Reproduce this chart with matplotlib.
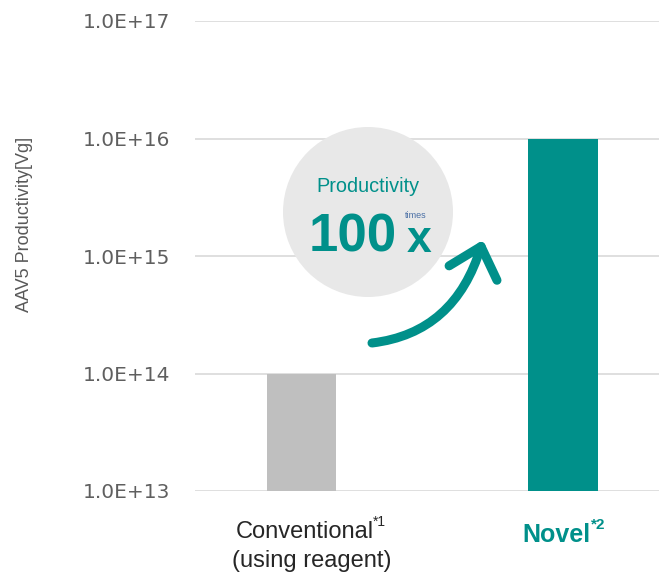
import matplotlib
matplotlib.use("Agg")
import matplotlib.pyplot as plt
from matplotlib.patches import Circle, FancyArrowPatch, ArrowStyle
from matplotlib.path import Path
import numpy as np

categories = ["Conventional", "Novel"]
values = [1.0e14, 1.0e16]
bar_colors = ["#bfbfbf", "#00908a"]
ytick_vals = [1e13, 1e14, 1e15, 1e16, 1e17]
ytick_labels = ["1.0E+13", "1.0E+14", "1.0E+15", "1.0E+16", "1.0E+17"]

TEAL = "#00908a"
W, H = 659, 573
fig = plt.figure(figsize=(W / 100, H / 100), dpi=100)
ax = fig.add_axes([195 / W, 1 - 491 / H, 1 - 195 / W, (491 - 21) / H])

base = 1e13
x = np.arange(len(categories))
ax.bar(x, np.array(values) - base, width=0.264, color=bar_colors, bottom=base, zorder=3)
ax.set_yscale("log")
ax.set_ylim(1e13, 1e17)
ax.set_xlim(-0.407, 1.367)
ax.set_yticks(ytick_vals)
ax.set_yticklabels(ytick_labels, family="DejaVu Sans", fontsize=14.5, color="#5f5f5f")
ax.minorticks_off()
ax.tick_params(axis="y", length=0, pad=18)
ax.set_xticks([])
ax.grid(axis="y", color="#d9d9d9", lw=1.2, zorder=0)
for s in ax.spines.values():
    s.set_visible(False)


def fx(px):
    return px / W


def fy(py):
    return 1 - py / H


fig.text(fx(25), fy(224), "AAV5 Productivity[Vg]", rotation=90, ha="center", va="center",
         family="Liberation Sans", fontsize=13, color="#595959")

# circle
circ = Circle((368 / 100, (H - 212) / 100), 0.85, transform=fig.dpi_scale_trans,
              facecolor="#e8e8e8", edgecolor="none", zorder=4, clip_on=False)
ax.add_artist(circ)

fig.text(fx(368), fy(187), "Productivity", ha="center", va="center",
         family="Liberation Sans", fontsize=14.3, color=TEAL, zorder=5)
fig.text(fx(309), fy(252), "100", ha="left", va="baseline", family="Liberation Sans",
         fontsize=38, fontweight="bold", color=TEAL, zorder=5)
fig.text(fx(419), fy(252), "x", ha="center", va="baseline", family="Liberation Sans",
         fontsize=32, fontweight="bold", color=TEAL, zorder=5)
fig.text(fx(416), fy(215), "times", ha="center", va="center", family="Liberation Sans",
         fontsize=6.5, color="#4a6fa5", zorder=5)

# arrow (quadratic curve)
apath = Path([(fx(372), fy(343)), (fx(455), fy(333)), (fx(483), fy(240))],
             [Path.MOVETO, Path.CURVE3, Path.CURVE3])
arrow = FancyArrowPatch(path=apath, transform=fig.transFigure,
                        arrowstyle=ArrowStyle("->", head_length=2.0, head_width=1.8),
                        mutation_scale=10, color=TEAL, lw=6.5, capstyle="round",
                        joinstyle="round", zorder=6)
fig.add_artist(arrow)

# x labels
fig.text(fx(305), fy(532), "Conventional", ha="center", va="center",
         family="Liberation Sans", fontsize=17, color="#262626")
fig.text(fx(373), fy(522), "*1", ha="left", va="center",
         family="Liberation Sans", fontsize=10, color="#262626")
fig.text(fx(312), fy(561), "(using reagent)", ha="center", va="center",
         family="Liberation Sans", fontsize=17, color="#262626")
fig.text(fx(522), fy(535), "Novel", ha="left", va="center",
         family="Liberation Sans", fontsize=18, fontweight="bold", color=TEAL)
fig.text(fx(591), fy(525), "*2", ha="left", va="center",
         family="Liberation Sans", fontsize=11, fontweight="bold", color=TEAL)

fig.savefig("out.png", dpi=100)
